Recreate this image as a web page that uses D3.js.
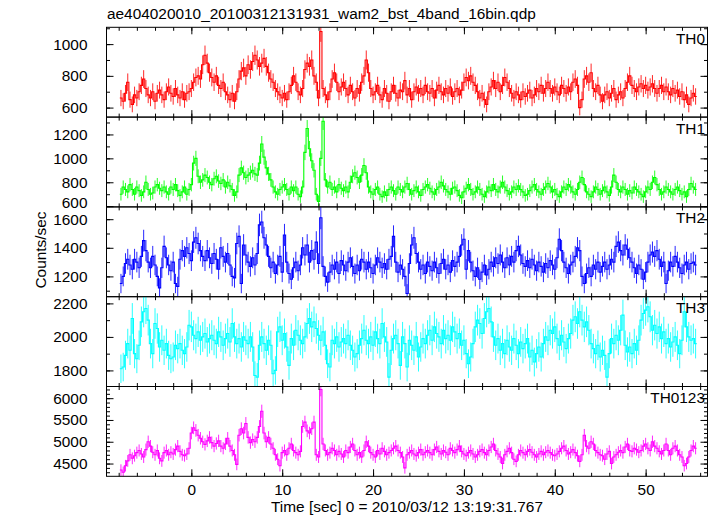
<!DOCTYPE html>
<html><head><meta charset="utf-8">
<script src="https://cdn.jsdelivr.net/npm/d3@7"></script>
<style>
body{margin:0;background:#fff;}
text{font-family:"Liberation Sans",Arial,Helvetica,sans-serif;}
</style></head><body>
<svg id="c" width="717" height="516"></svg>
<script>
const title = "ae404020010_20100312131931_wam2_bst_4band_16bin.qdp";
const xLabel = "Time [sec] 0 = 2010/03/12 13:19:31.767";
const yLabel = "Counts/sec";
const bands = ["TH0","TH1","TH2","TH3","TH0123"];
const colors = ["#ff0000","#00ff00","#0000ff","#00ffff","#ff00ff"];
const binStart = -7.875;   // left edge of first time bin (sec)
const binWidth = 0.25;     // sec per bin
const xDomain = [-9.34, 56.81];
const xMajorTicks = [0,10,20,30,40,50];
const xMinorTicks = d3.range(-8, 57, 2);

const th0 = [
660,640,690,760, 650,620,680,660, 700,740,780,720, 680,660,700,640, 690,710,680,650,
700,730,690,670, 720,680,660,700, 650,690,700,720, 760,790,800,780, 870,930,880,820,
790,760,800,740, 720,760,700,680, 650,690,640,700, 780,830,850,800, 870,840,890,930,
900,860,880,910, 860,820,780,760, 720,700,680,660, 690,650,700,740, 800,760,700,680,
720,840,880,860, 900,800,760,660, 1080,720,680,650, 700,780,820,760, 700,730,760,720,
680,740,700,660, 720,690,760,800, 900,820,720,680, 700,740,680,650, 720,690,640,700,
740,690,660,710, 700,770,680,720, 650,700,730,690, 720,680,740,700, 690,720,660,710,
740,700,680,720, 690,730,670,700, 720,680,710,760, 790,770,800,760, 740,700,660,690,
650,620,700,730, 770,720,760,700, 740,790,760,720, 690,660,700,680, 650,700,670,690,
710,660,680,720, 700,740,690,720, 760,720,690,730, 700,680,740,720, 690,730,700,760,
780,740,600,650, 780,800,760,820, 720,700,740,680, 640,680,700,660, 690,720,650,680,
700,660,720,760, 800,740,720,700, 730,750,720,740, 710,730,750,720, 690,720,740,700,
730,700,680,720, 690,710,670,700, 650,680,620,660, 690,670];

const th1 = [
700,760,740,720, 780,740,700,760, 730,690,720,800, 740,700,710,760, 780,750,730,760,
720,700,760,740, 780,730,690,720, 760,700,740,780, 960,1000,850,800, 820,860,840,800,
780,830,850,810, 790,820,760,800, 770,740,690,720, 860,920,880,840, 860,880,900,870,
860,960,1120,1010, 920,870,820,760, 720,700,740,760, 780,740,700,760, 730,760,700,680,
760,1050,1250,1080, 980,900,700,640, 1000,1310,820,760, 800,740,760,720, 780,750,730,760,
720,800,850,880, 840,800,860,940, 880,760,720,700, 740,760,700,680, 720,690,740,760,
730,700,760,740, 720,760,790,740, 700,730,760,720, 690,740,760,780, 750,720,700,740,
760,800,770,740, 720,700,750,760, 730,690,670,720, 750,780,740,700, 720,760,740,700,
680,720,760,730, 780,740,720,760, 800,760,730,700, 720,760,740,770, 740,720,690,700,
730,760,780,740, 720,700,740,760, 790,760,720,740, 700,680,720,760, 740,780,760,720,
700,740,800,840, 780,720,700,680, 720,760,740,700, 730,760,720,690, 760,860,800,740,
720,760,740,700, 730,710,760,740, 720,700,680,720, 760,740,800,840, 780,740,700,720,
760,740,720,700, 740,760,730,700, 720,680,740,790, 760,740];

const th2 = [
1150,1200,1290,1320, 1280,1250,1320,1300, 1260,1340,1450,1380, 1300,1260,1340,1280, 1200,1120,1260,1410,
1330,1280,1240,1300, 1150,1130,1320,1380, 1340,1400,1360,1310, 1440,1470,1430,1380, 1340,1310,1380,1330,
1290,1360,1320,1250, 1400,1340,1300,1360, 1280,1200,1190,1430, 1480,1150,1420,1350, 1300,1270,1330,1280,
1360,1560,1580,1470, 1420,1340,1260,1300, 1220,1280,1340,1230, 1490,1300,1220,1180, 1260,1300,1240,1280,
1400,1350,1420,1300, 1380,1320,1440,1290, 1610,1270,1200,1160, 1230,1280,1250,1300, 1220,1310,1280,1240,
1300,1330,1270,1220, 1280,1240,1320,1300, 1250,1300,1260,1220, 1280,1330,1300,1260, 1290,1250,1320,1340,
1480,1300,1230,1280, 1250,1200,1080,1290, 1420,1470,1360,1300, 1250,1280,1220,1300, 1270,1240,1300,1260,
1220,1290,1320,1250, 1280,1230,1310,1270, 1300,1340,1420,1460, 1250,1380,1300,1240, 1200,1260,1180,1230,
1280,1210,1250,1300, 1270,1330,1290,1350, 1300,1260,1330,1280, 1340,1300,1380,1410, 1350,1290,1270,1310,
1260,1320,1280,1240, 1300,1270,1230,1290, 1260,1310,1280,1250, 1330,1460,1380,1300, 1260,1220,1280,1300,
1340,1400,1380,1200, 1150,1220,1260,1200, 1280,1250,1300,1230, 1270,1300,1250,1280, 1320,1300,1410,1440,
1380,1350,1420,1390, 1330,1300,1260,1220, 1280,1250,1180,1230, 1300,1350,1370,1340, 1380,1320,1270,1300,
1150,1240,1300,1270, 1340,1300,1260,1220, 1280,1300,1250,1290, 1300,1280];

const th3 = [
1810,1820,1890,1960, 1920,2110,1900,1870, 1950,2090,2150,2170, 2100,1960,1900,2080, 2050,1940,1980,1920,
1960,1890,1870,1880, 1950,1930,1960,1920, 1900,1940,2070,2060, 2010,1990,2030,1980, 2000,2020,1970,1990,
2010,1980,1960,2030, 2000,1950,1990,2020, 1970,2080,2000,1960, 1990,1940,2000,1980, 1960,2000,1940,1770,
1760,1950,2000,1960, 1920,1980,1950,1780, 1800,2030,2060,1980, 2020,1940,1830,1990, 1950,2040,2010,1980,
1960,2000,2080,2110, 2060,2090,2050,2010, 1980,2030,1950,1840, 1820,1980,1960,2000, 1940,1970,1990,1960,
2010,1950,1920,1880, 1900,1950,1990,2040, 1980,1960,2000,1950, 2030,1990,1960,2080, 2000,1970,1760,1920,
1990,2010,1960,1830, 2000,1960,1820,1980, 1950,1920,2000,1880, 1940,1990,1960,2010, 2040,1980,2060,2020,
2000,1960,2040,1990, 2010,1980,2060,2030, 1990,2020,1950,1980, 1900,1840,1880,1960, 2060,2100,2080,2020,
2110,2150,2170,2090, 2000,1950,1990,1920, 1960,1900,1980,1940, 1920,1990,1950,1900, 1970,1930,1960,1990,
1880,1920,1850,1900, 1940,1880,1960,2000, 1980,2040,2020,2060, 1990,1950,2010,1970, 1930,1990,2020,2100,
2120,2080,2150,2100, 2060,2090,2040,1960, 1930,1900,1950,1880, 1920,1890,1760,1900, 1990,1960,2010,1980,
2040,2130,1950,1910, 1940,1900,1960,1920, 1980,2100,2140,2160, 2180,2120,2040,2070, 2020,2060,1990,2030,
1960,1990,1940,1970, 2000,1950,1900,1980, 2150,2060,2000,1980, 1990,1960];

const th0123 = [
4350,4300,4450,4560, 4700,4620,4680,4750, 4800,4720,4650,4820, 5000,4900,4760,4700, 4800,4620,4560,4750,
4800,4700,4760,4720, 4820,4900,4780,4700, 4680,4720,4850,5200, 5320,5260,5150,5080, 5000,4940,5020,5100,
4980,4900,4960,5020, 4900,4850,4950,5080, 4900,4800,4700,4480, 5150,5300,5200,5420, 5100,4980,5050,5000,
5100,5350,5700,5200, 5000,5100,4950,4850, 4700,4600,4450,4750, 4800,4700,4850,4950, 4800,4750,4700,4780,
5350,5450,5250,5200, 5300,5450,4700,4650, 6200,4950,4800,4700, 4750,4850,4800,4700, 4780,4720,4650,4800,
4750,4880,4950,4800, 4700,4750,4650,4800, 5000,4900,4750,4700, 4650,4800,4720,4850, 4780,4700,4750,4800,
4850,4900,4800,4750, 4650,4400,4700,4750, 4800,4720,4680,4750, 4820,4700,4760,4800, 4750,4700,4820,4880,
4780,4720,4800,4760, 4700,4850,4800,4750, 4820,4900,4780,4720, 4680,4750,4800,4720, 4650,4700,4780,4820,
4750,4700,4800,4880, 4950,4800,4720,4650, 4500,4700,4780,4850, 4750,4600,4550,4700, 4800,4750,4700,4780,
4820,4760,4700,4650, 4720,4780,4700,4760, 4800,4750,4700,4680, 4720,4780,4850,4900, 4800,4720,4760,4820,
4750,4680,4550,4700, 5150,4900,4850,5000, 4950,4800,4750,4700, 4680,4600,4720,4780, 4500,4650,4700,4760,
4800,4750,4880,4950, 4800,4780,4850,4820, 4760,4800,4900,4950, 4850,4800,5000,4900, 4850,4780,4720,4800,
4950,4800,4700,4850, 4900,4800,4700,4650, 4450,4500,4650,4800, 4900,4850];

const series = [th0, th1, th2, th3, th0123];
const yDomains = [[540,1106],[594,1345],[1058,1686],[1704,2240],[4207,6268]];
const yLabelTicks = [[600,800,1000],[600,800,1000,1200],[1200,1400,1600],[1800,2000,2200],[4500,5000,5500,6000]];
const yMinorStep = [100,100,100,100,100];

// layout
const L = 106.5, R = 707.5, T = 27.3, B = 476.3;
const nP = series.length, PH = (B - T) / nP;
const svg = d3.select("#c");
const x = d3.scaleLinear().domain(xDomain).range([L, R]);

svg.append("text").attr("x", 107).attr("y", 19).attr("font-size", "15.4px").text(title);

series.forEach((vals, p) => {
  const top = T + p * PH, bot = top + PH;
  const y = d3.scaleLinear().domain(yDomains[p]).range([bot, top]);
  const g = svg.append("g");
  const cid = "clip" + p;
  svg.append("clipPath").attr("id", cid).append("rect")
     .attr("x", L).attr("y", top).attr("width", R - L).attr("height", PH);
  const dg = g.append("g").attr("clip-path", `url(#${cid})`);
  // Poisson error on a rate measured in binWidth seconds
  const err = v => Math.sqrt(v * binWidth) / binWidth;
  // error bars
  dg.selectAll("line.e").data(vals).join("line")
    .attr("x1", (v, i) => x(binStart + (i + 0.5) * binWidth))
    .attr("x2", (v, i) => x(binStart + (i + 0.5) * binWidth))
    .attr("y1", v => y(v - err(v))).attr("y2", v => y(v + err(v)))
    .attr("stroke", colors[p]).attr("stroke-width", 1).attr("stroke-opacity", 0.85);
  // step line
  const pts = [];
  vals.forEach((v, i) => {
    pts.push([binStart + i * binWidth, v]);
    pts.push([binStart + (i + 1) * binWidth, v]);
  });
  dg.append("path").datum(pts)
    .attr("d", d3.line().x(d => x(d[0])).y(d => y(d[1])))
    .attr("fill", "none").attr("stroke", colors[p]).attr("stroke-width", 1.1);

  // frame
  g.append("rect").attr("x", L).attr("y", top).attr("width", R - L).attr("height", PH)
   .attr("fill", "none").attr("stroke", "#000").attr("stroke-width", 1);

  // x ticks (inward) top and bottom
  const xMinB = d3.axisBottom(x).tickValues(xMinorTicks).tickSize(-3.5).tickFormat("");
  const xMajB = d3.axisBottom(x).tickValues(xMajorTicks).tickSize(-7).tickPadding(8)
                 .tickFormat(p === nP - 1 ? d3.format("d") : "");
  const xMinT = d3.axisTop(x).tickValues(xMinorTicks).tickSize(-3.5).tickFormat("");
  const xMajT = d3.axisTop(x).tickValues(xMajorTicks).tickSize(-7).tickFormat("");
  [[xMinB, bot], [xMajB, bot], [xMinT, top], [xMajT, top]].forEach(([ax, yy]) => {
    const a = g.append("g").attr("transform", `translate(0,${yy})`).call(ax);
    a.select(".domain").remove();
  });
  // y ticks
  const [y0, y1] = yDomains[p];
  const minor = d3.range(Math.ceil(y0 / yMinorStep[p]) * yMinorStep[p], y1, yMinorStep[p]);
  const yMinL = d3.axisLeft(y).tickValues(minor).tickSize(-3.5).tickFormat("");
  const yMajL = d3.axisLeft(y).tickValues(yLabelTicks[p]).tickSize(-7).tickPadding(19).tickFormat(d3.format("d"));
  const yMinR = d3.axisRight(y).tickValues(minor).tickSize(-3.5).tickFormat("");
  const yMajR = d3.axisRight(y).tickValues(yLabelTicks[p]).tickSize(-7).tickFormat("");
  [[yMinL, L], [yMajL, L], [yMinR, R], [yMajR, R]].forEach(([ax, xx]) => {
    const a = g.append("g").attr("transform", `translate(${xx},0)`).call(ax);
    a.select(".domain").remove();
    // keep a label that sits on the panel's lower edge from running into the next panel's label
    a.selectAll(".tick text").filter(d => y(d) > bot - 6).attr("dy", "0.1em");
  });
  g.selectAll(".tick text").attr("font-size", "15.4px").attr("fill", "#000")
   .attr("font-family", '"Liberation Sans",Arial,sans-serif');
  g.selectAll(".tick line").attr("stroke", "#000");

  // band label
  svg.append("text").attr("x", 705).attr("y", top + 16.5).attr("text-anchor", "end")
     .attr("font-size", "15.4px").text(bands[p]);
});

svg.append("text").attr("x", (L + R) / 2).attr("y", 512).attr("text-anchor", "middle")
   .attr("font-size", "15.4px").text(xLabel);
svg.append("text").attr("transform", "translate(46,250) rotate(-90)").attr("text-anchor", "middle")
   .attr("font-size", "15.4px").text(yLabel);
</script></body></html>
